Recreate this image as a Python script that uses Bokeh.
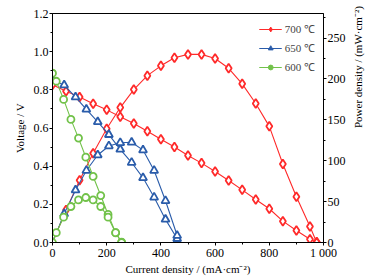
import math
from bokeh.plotting import figure
from bokeh.models import Range1d, LinearAxis, FixedTicker, Legend, LegendItem, NumeralTickFormatter
from bokeh.embed import file_html
from bokeh.resources import INLINE

# ---- data ----
I700 = [0, 50, 100, 150, 200, 250, 300, 350, 400, 450, 500, 550, 600, 650, 700, 750, 800, 850, 900, 950, 975]
V700 = [0.826, 0.793, 0.762, 0.727, 0.695, 0.659, 0.624, 0.583, 0.541, 0.500, 0.456, 0.416, 0.372, 0.325,
        0.276, 0.225, 0.177, 0.112, 0.063, 0.017, 0.002]
P700 = [0, 39.6, 76, 109, 139, 165, 187, 204, 216, 226, 230, 230, 225, 213, 194, 170, 142, 96, 56, 19.6, 0]

I650 = [0, 43, 85, 125, 167, 208, 250, 292, 334, 375, 417, 460]
V650 = [0.850, 0.825, 0.762, 0.698, 0.632, 0.565, 0.488, 0.419, 0.339, 0.237, 0.121, 0.020]
P650 = [0, 35, 64, 88, 107, 118, 122, 122.5, 113, 88, 51, 8.5]

I600 = [0, 14, 41, 68, 96, 123, 150, 178, 205, 233, 255]
V600 = [0.887, 0.845, 0.750, 0.645, 0.547, 0.447, 0.346, 0.246, 0.147, 0.051, 0.002]
P600 = [0, 12, 31, 44, 52, 55, 52, 44, 31, 12, 0]

labels = ["700 ℃", "650 ℃", "600 ℃"]
x_ticks = [0, 200, 400, 600, 800, 1000]
y_ticks = [0.0, 0.2, 0.4, 0.6, 0.8, 1.0, 1.2]
p_ticks = [0, 50, 100, 150, 200, 250]

RED = "#ff2a2a"
BLUE = "#2a5caa"
GREEN = "#72c24a"
FONT = "Liberation Serif"

p = figure(frame_width=271, frame_height=229, output_backend="svg", toolbar_location=None,
           x_range=Range1d(0, 1000), y_range=Range1d(0, 1.2),
           min_border_left=52, min_border_right=50, min_border_top=13, min_border_bottom=30)
p.extra_y_ranges = {"power": Range1d(0, 280)}
p.grid.visible = False
p.outline_line_color = "black"
p.outline_line_width = 1
p.background_fill_color = "white"
p.border_fill_color = "white"

def style_axis(ax):
    ax.major_label_text_font = FONT
    ax.major_label_text_font_size = "12px"
    ax.major_label_text_color = "black"
    ax.axis_label_text_font = FONT
    ax.axis_label_text_font_size = "11px"
    ax.axis_label_text_font_style = "normal"
    ax.axis_label_text_color = "black"
    ax.axis_line_color = "black"
    ax.major_tick_line_color = "black"
    ax.minor_tick_line_color = "black"
    ax.major_tick_out = 3
    ax.major_tick_in = 0
    ax.minor_tick_out = 2
    ax.minor_tick_in = 0
    ax.major_label_standoff = 1
    ax.axis_label_standoff = 2

xa = p.xaxis[0]
xa.ticker = FixedTicker(ticks=x_ticks, minor_ticks=list(range(0, 1001, 100)))
xa.major_label_overrides = {1000: "1 000"}
xa.axis_label = "Current density / (mA·cm⁻²)"
style_axis(xa)
xa.major_label_standoff = 0
xa.axis_label_standoff = 0

ya = p.yaxis[0]
ya.ticker = FixedTicker(ticks=y_ticks, minor_ticks=[i / 10 for i in range(13)])
ya.formatter = NumeralTickFormatter(format="0.0")
ya.axis_label = "Voltage / V"
style_axis(ya)
ya.axis_label_standoff = 5

ra = LinearAxis(y_range_name="power",
                ticker=FixedTicker(ticks=p_ticks, minor_ticks=list(range(0, 281, 25))),
                axis_label="Power density / (mW·cm⁻²)")
style_axis(ra)
ra.axis_label_standoff = 9
if hasattr(ra, "axis_label_orientation"):
    ra.axis_label_orientation = math.pi / 2
p.add_layout(ra, "right")

series = [
    (I700, V700, P700, RED, "diamond", 9),
    (I650, V650, P650, BLUE, "triangle", 8),
    (I600, V600, P600, GREEN, "circle", 7),
]
items = []
for (I, V, P, c, m, s), lab in zip(series, labels):
    p.line(I, V, line_color=c, line_width=1.1)
    p.scatter(I, V, marker=m, size=s, line_color=c, fill_color="white", line_width=1.8)
    p.line(I, P, line_color=c, line_width=1.1, y_range_name="power")
    p.scatter(I, P, marker=m, size=s, line_color=c, fill_color="white", line_width=1.8,
              y_range_name="power")
    lg = p.line([0], [0], line_color=c, line_width=1.1, visible=False)
    sg = p.scatter([0], [0], marker=m, size=5, line_color=c, fill_color=c, visible=False)
    items.append(LegendItem(label=lab, renderers=[lg, sg]))

legend = Legend(items=items, location="top_right")
legend.label_text_font = FONT
legend.label_text_font_size = "11px"
legend.glyph_width = 23
legend.glyph_height = 12
legend.spacing = 4
legend.label_standoff = 3
legend.padding = 2
legend.margin = 8
legend.border_line_color = None
legend.background_fill_alpha = 0
p.add_layout(legend)

open("out.html", "w").write(file_html(p, INLINE))
